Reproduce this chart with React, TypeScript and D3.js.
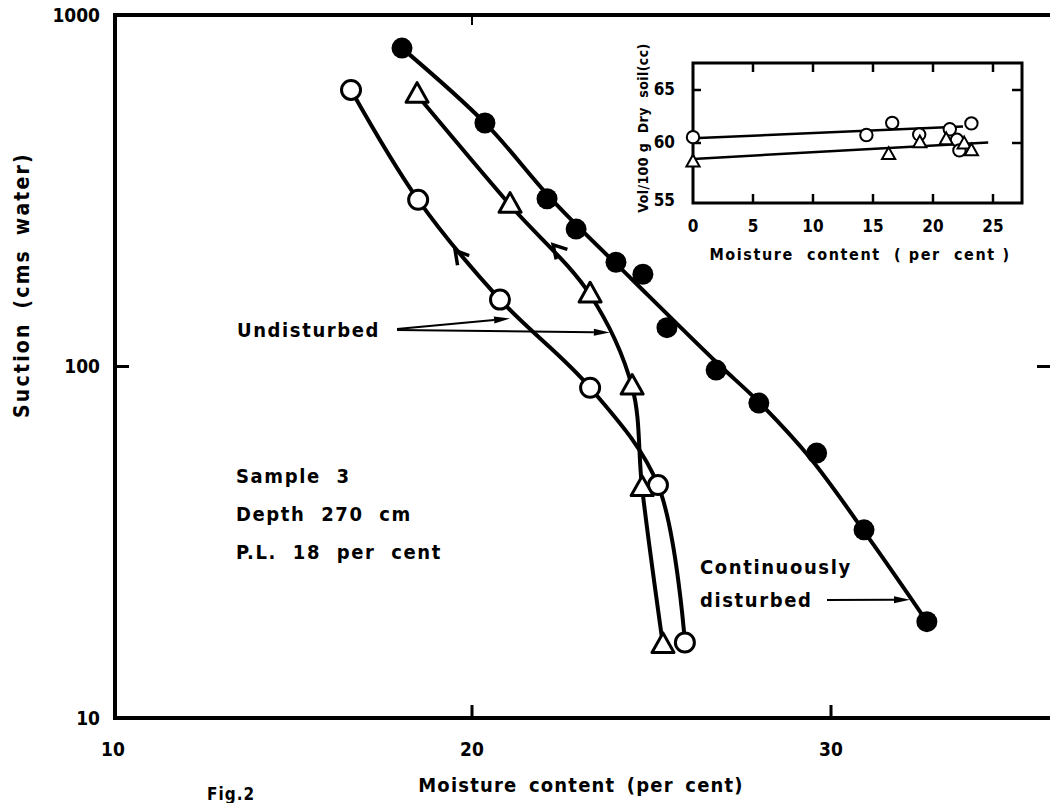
import React from 'react';
import * as d3 from 'd3';

// main plot: moisture content (per cent) vs suction (cms water), log y
const filledPts: [number, number][] = [
  [18.05, 805], [20.36, 493], [22.09, 300], [22.9, 246], [24.01, 198], [24.76, 183],
  [25.43, 129], [26.8, 97.7], [27.99, 78.7], [29.6, 56.7], [30.92, 34.3], [32.67, 18.8],
];
// hand-drawn smooth curve for the continuously disturbed sample
const filledCurve: [number, number][] = [
  [18.05, 805], [20.36, 493], [22.31, 292], [24.48, 176], [26.8, 103], [28.02, 78.7],
  [29.42, 54.9], [31.09, 32.1], [32.67, 18.8],
];
const openPts: [number, number][] = [
  [16.63, 612], [18.5, 298], [20.78, 155], [23.29, 87], [25.18, 46], [25.93, 16.4],
];
const triPts: [number, number][] = [
  [18.47, 592], [21.06, 288], [23.29, 160], [24.46, 87.5], [24.74, 45], [25.32, 16.1],
];
const xTicks = [10, 20, 30];
const yTicks = [10, 100, 1000];
const notes = ['Sample  3', 'Depth  270  cm', 'P.L.  18  per  cent'];

// inset: Vol/100 g dry soil vs moisture content
const insetOpen: [number, number][] = [
  [0, 60.55], [14.45, 60.75], [16.6, 61.9], [18.85, 60.8], [21.4, 61.3], [22.0, 60.3], [22.2, 59.3], [23.2, 61.85],
];
const insetTri: [number, number][] = [
  [0, 58.2], [16.3, 58.9], [18.9, 60.0], [21.1, 60.3], [22.6, 59.9], [23.2, 59.25],
];
const insetOpenFit: [number, number][] = [[0, 60.45], [22.5, 61.55]];
const insetTriFit: [number, number][] = [[0, 58.5], [24.6, 60.05]];
const insetXTicks = [0, 5, 10, 15, 20, 25];
const insetYTicks = [55, 60, 65];

const W = 1050, H = 803;
const FONT = '"DejaVu Sans Condensed", "DejaVu Sans", sans-serif';

export default function App() {
  const x = d3.scaleLinear().domain([10, 30]).range([113, 831]);
  const y = d3.scaleLog().domain([10, 1000]).range([718, 15]);
  const left = 115, right = 1053, top = 15, bottom = 718;

  const line = d3.line<[number, number]>()
    .x(d => x(d[0])).y(d => y(d[1]))
    .curve(d3.curveCatmullRom.alpha(0.5));

  const xi = d3.scaleLinear().domain([0, 25]).range([693, 993]);
  const yi = d3.scaleLinear().domain([55, 65]).range([196, 90]);
  const iL = 693, iR = 1022, iT = 63, iB = 203;
  const iline = d3.line<[number, number]>().x(d => xi(d[0])).y(d => yi(d[1]));

  // chevron on a curve, pointing from point b toward point a
  const chevron = (at: [number, number], a: [number, number], b: [number, number], key: string) => {
    const px = x(at[0]), py = y(at[1]);
    let dx = x(a[0]) - x(b[0]), dy = y(a[1]) - y(b[1]);
    const n = Math.hypot(dx, dy); dx /= n; dy /= n;
    const L = 15, ang = Math.PI / 6;
    const arm = (s: number) => {
      const c = Math.cos(s * ang), sn = Math.sin(s * ang);
      const rx = dx * c - dy * sn, ry = dx * sn + dy * c;
      return [px - L * rx, py - L * ry];
    };
    const p1 = arm(1), p2 = arm(-1);
    return <path key={key} d={`M${p1[0]},${p1[1]}L${px},${py}L${p2[0]},${p2[1]}`} fill="none" stroke="#000" strokeWidth={3.5} />;
  };

  // thin line with filled arrowhead
  const pointer = (x0: number, y0: number, x1: number, y1: number, key: string) => {
    let dx = x1 - x0, dy = y1 - y0;
    const n = Math.hypot(dx, dy); dx /= n; dy /= n;
    const L = 16, hw = 3.5;
    const bx = x1 - dx * L, by = y1 - dy * L;
    return (
      <g key={key}>
        <line x1={x0} y1={y0} x2={bx} y2={by} stroke="#000" strokeWidth={2} />
        <path d={`M${x1},${y1}L${bx - dy * hw},${by + dx * hw}L${bx + dy * hw},${by - dx * hw}Z`} fill="#000" />
      </g>
    );
  };

  const tri = (cx: number, cy: number, s: number) =>
    `M${cx},${cy - s * 0.62}L${cx + s * 0.55},${cy + s * 0.36}L${cx - s * 0.55},${cy + s * 0.36}Z`;

  return (
    <svg width={W} height={H} style={{ position: 'absolute', left: 0, top: 0, background: '#fff' }}
      fontFamily={FONT} fontWeight="bold">
      <rect width={W} height={H} fill="#fff" />

      {/* frame */}
      <path d={`M${right},${top}L${left},${top}L${left},${bottom}L${right},${bottom}L${right},${top}`} fill="none" stroke="#000" strokeWidth={4} />
      {xTicks.filter(t => t > 10).map(t => (
        <line key={'xt' + t} x1={x(t)} x2={x(t)} y1={bottom} y2={bottom - 13} stroke="#000" strokeWidth={3} />
      ))}
      <line x1={x(20)} x2={x(20)} y1={top} y2={top + 10} stroke="#000" strokeWidth={2} />
      {yTicks.filter(t => t > 10 && t < 1000).map(t => (
        <g key={'yt' + t}>
          <line x1={left} x2={left + 14} y1={y(t)} y2={y(t)} stroke="#000" strokeWidth={3} />
          <line x1={1037} x2={right} y1={y(t)} y2={y(t)} stroke="#000" strokeWidth={3} />
        </g>
      ))}

      {/* tick labels */}
      {yTicks.map(t => (
        <text key={'yl' + t} x={100} y={y(t) + 1} textAnchor="end" dominantBaseline="middle" fontSize={19}>{t}</text>
      ))}
      {xTicks.map(t => (
        <text key={'xl' + t} x={x(t)} y={756} textAnchor="middle" fontSize={19}>{t}</text>
      ))}
      <text x={581} y={792} textAnchor="middle" fontSize={20} letterSpacing={1.2} wordSpacing={4}>Moisture content (per cent)</text>
      <text x={207} y={800} fontSize={17} letterSpacing={1}>Fig.2</text>
      <text transform={`translate(29,${285}) rotate(-90)`} textAnchor="middle" fontSize={21} letterSpacing={2.2} wordSpacing={5}>Suction (cms water)</text>

      {/* curves */}
      <path d={line(filledCurve) || ''} fill="none" stroke="#000" strokeWidth={4} />
      <path d={line(openPts) || ''} fill="none" stroke="#000" strokeWidth={4} />
      <path d={line(triPts) || ''} fill="none" stroke="#000" strokeWidth={4} />
      {chevron([19.53, 214], openPts[1], openPts[2], 'c1')}
      {chevron([22.26, 222], triPts[1], triPts[2], 'c2')}

      {/* markers */}
      {filledPts.map((d, i) => <circle key={'f' + i} cx={x(d[0])} cy={y(d[1])} r={10.5} fill="#000" />)}
      {openPts.map((d, i) => <circle key={'o' + i} cx={x(d[0])} cy={y(d[1])} r={9.5} fill="#fff" stroke="#000" strokeWidth={3} />)}
      {triPts.map((d, i) => <path key={'t' + i} d={tri(x(d[0]), y(d[1]), 20)} fill="#fff" stroke="#000" strokeWidth={3} strokeLinejoin="round" />)}

      {/* annotations */}
      <text x={237} y={337} fontSize={20} letterSpacing={1.6}>Undisturbed</text>
      {pointer(397, 329, x(21.06), y(137), 'p1')}
      {pointer(397, 330, x(23.84), y(125), 'p2')}
      {notes.map((s, i) => (
        <text key={'n' + i} x={236} y={483 + i * 38} fontSize={20} letterSpacing={1.6} style={{ whiteSpace: 'pre' }}>{s}</text>
      ))}
      <text x={700} y={574} fontSize={20} letterSpacing={1.6}>Continuously</text>
      <text x={700} y={607} fontSize={20} letterSpacing={1.6}>disturbed</text>
      {pointer(827, 600, x(32.2), y(21.7), 'p3')}

      {/* inset */}
      <rect x={iL} y={iT} width={iR - iL} height={iB - iT} fill="#fff" stroke="#000" strokeWidth={3} />
      {insetXTicks.filter(t => t > 0).map(t => (
        <g key={'ix' + t}>
          <line x1={xi(t)} x2={xi(t)} y1={iB} y2={iB - 9} stroke="#000" strokeWidth={2.5} />
          <line x1={xi(t)} x2={xi(t)} y1={iT} y2={iT + 9} stroke="#000" strokeWidth={2.5} />
        </g>
      ))}
      {insetYTicks.filter(t => t > 55).map(t => (
        <g key={'iy' + t}>
          <line x1={iL} x2={iL + 8} y1={yi(t)} y2={yi(t)} stroke="#000" strokeWidth={2.5} />
          <line x1={iR - 10} x2={iR} y1={yi(t)} y2={yi(t)} stroke="#000" strokeWidth={2.5} />
        </g>
      ))}
      {insetXTicks.map(t => (
        <text key={'ixl' + t} x={xi(t)} y={232} textAnchor="middle" fontSize={17}>{t}</text>
      ))}
      {insetYTicks.map(t => (
        <text key={'iyl' + t} x={675} y={t === 55 ? 201 : yi(t)} textAnchor="end" dominantBaseline="middle" fontSize={17}>{t}</text>
      ))}
      <text x={860} y={260} textAnchor="middle" fontSize={16} letterSpacing={1.6} style={{ whiteSpace: 'pre' }}>Moisture  content  ( per  cent )</text>
      <text transform="translate(648,128) rotate(-90)" textAnchor="middle" fontSize={14} letterSpacing={0.4} style={{ whiteSpace: 'pre' }}>Vol/100 g  Dry  soil(cc)</text>
      <path d={iline(insetOpenFit) || ''} fill="none" stroke="#000" strokeWidth={2.5} />
      <path d={iline(insetTriFit) || ''} fill="none" stroke="#000" strokeWidth={2.5} />
      {insetOpen.map((d, i) => <circle key={'io' + i} cx={xi(d[0])} cy={yi(d[1])} r={6.2} fill="#fff" stroke="#000" strokeWidth={2} />)}
      {insetTri.map((d, i) => <path key={'it' + i} d={tri(xi(d[0]), yi(d[1]), 12)} fill="#fff" stroke="#000" strokeWidth={2} />)}
    </svg>
  );
}
